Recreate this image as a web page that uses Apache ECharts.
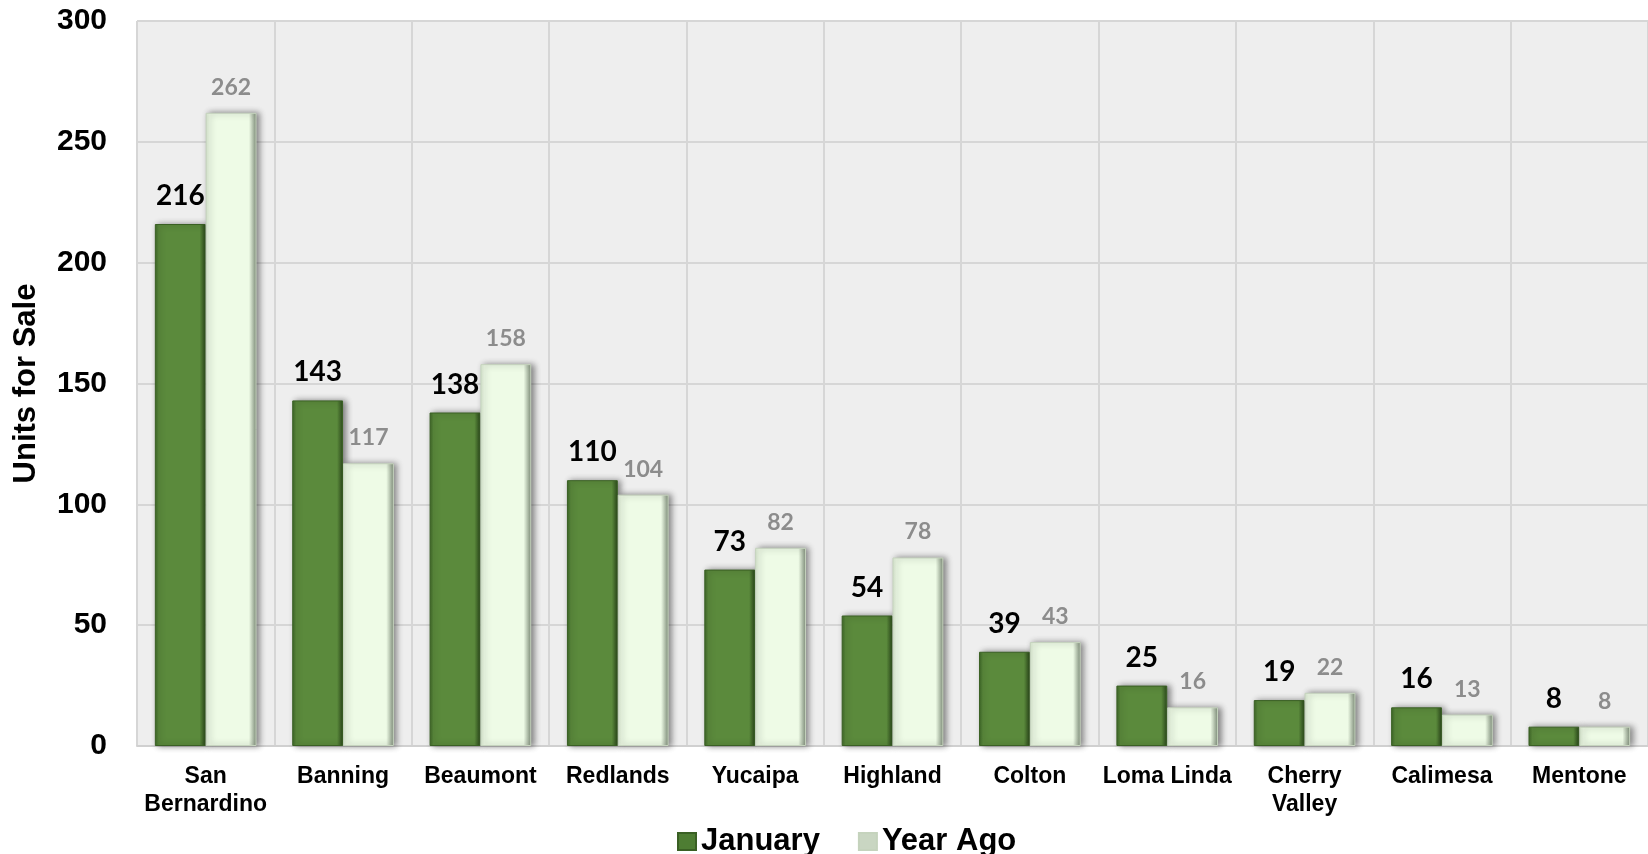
<!DOCTYPE html>
<html><head><meta charset="utf-8">
<script src="https://cdn.jsdelivr.net/npm/echarts@6/dist/echarts.min.js"></script>
<style>html,body{margin:0;padding:0;background:#fff}#c{width:1648px;height:854px}</style>
</head><body><div id="c"></div>
<script>
const categories = ['San\nBernardino','Banning','Beaumont','Redlands','Yucaipa','Highland','Colton','Loma Linda','Cherry\nValley','Calimesa','Mentone'];
const january = [216,143,138,110,73,54,39,25,19,16,8];
const yearAgo = [262,117,158,104,82,78,43,16,22,13,8];
const yTicks = [0,50,100,150,200,250,300];

const chart = echarts.init(document.getElementById('c'));
const janColor = new echarts.graphic.LinearGradient(0,0,1,0,[
  {offset:0,color:'#3d6627'},{offset:0.08,color:'#5b8a3c'},{offset:0.88,color:'#5b8a3c'},{offset:1,color:'#2c4a1c'}]);
const yaColor = new echarts.graphic.LinearGradient(0,0,1,0,[
  {offset:0,color:'#d8e8d0'},{offset:0.08,color:'#eefbe6'},{offset:0.85,color:'#eefbe6'},{offset:1,color:'#7d8c78'}]);
chart.setOption({
  backgroundColor:'#ffffff',
  animation:false,
  grid:{left:137,right:0,top:21,bottom:108,show:true,backgroundColor:'#eeeeee',borderWidth:0},
  legend:{
    left:672, top:821, itemWidth:18, itemHeight:17, itemGap:38,
    textStyle:{fontFamily:'Liberation Sans, Arial',fontWeight:'bold',fontSize:31,color:'#000'},
    data:[{name:'January',icon:'rect',itemStyle:{color:'#4e7d33'}},{name:'Year Ago',icon:'rect',itemStyle:{color:'#c9d6c2'}}]
  },
  xAxis:{
    type:'category', data:categories,
    axisLine:{lineStyle:{color:'#d0d0d0',width:2}},
    axisTick:{show:false},
    splitLine:{show:true,interval:0,lineStyle:{color:'#d6d6d6',width:2}},
    axisLabel:{interval:0,margin:17,fontFamily:'Liberation Sans, Arial',fontWeight:'bold',fontSize:23,color:'#000',lineHeight:28}
  },
  yAxis:{
    type:'value', min:0, max:300, interval:50,
    name:'Units for Sale', nameLocation:'middle', nameGap:95, nameRotate:90,
    nameTextStyle:{fontFamily:'Liberation Sans, Arial',fontWeight:'bold',fontSize:31,color:'#000'},
    axisLine:{show:false}, axisTick:{show:false},
    splitLine:{lineStyle:{color:'#d6d6d6',width:2}},
    axisLabel:{margin:30,fontFamily:'Liberation Sans, Arial',fontWeight:'bold',fontSize:30,color:'#000',
      formatter:v=>yTicks.includes(v)?String(v):''}
  },
  series:[
    {name:'January',type:'bar',data:january,barGap:'0%',barCategoryGap:'26%',
     itemStyle:{color:janColor,borderColor:'#3a6024',borderWidth:1,shadowColor:'rgba(0,0,0,0.45)',shadowBlur:6,shadowOffsetX:3},
     label:{show:true,position:'top',distance:14,fontFamily:'Lato, Liberation Sans',fontWeight:'bold',fontSize:28,color:'#000'}},
    {name:'Year Ago',type:'bar',data:yearAgo,
     itemStyle:{color:yaColor,borderColor:'#c5d3bd',borderWidth:1,shadowColor:'rgba(0,0,0,0.45)',shadowBlur:6,shadowOffsetX:3},
     label:{show:true,position:'top',distance:14,fontFamily:'Lato, Liberation Sans',fontWeight:'bold',fontSize:23,color:'#8c8c8c'}}
  ]
});
</script></body></html>
